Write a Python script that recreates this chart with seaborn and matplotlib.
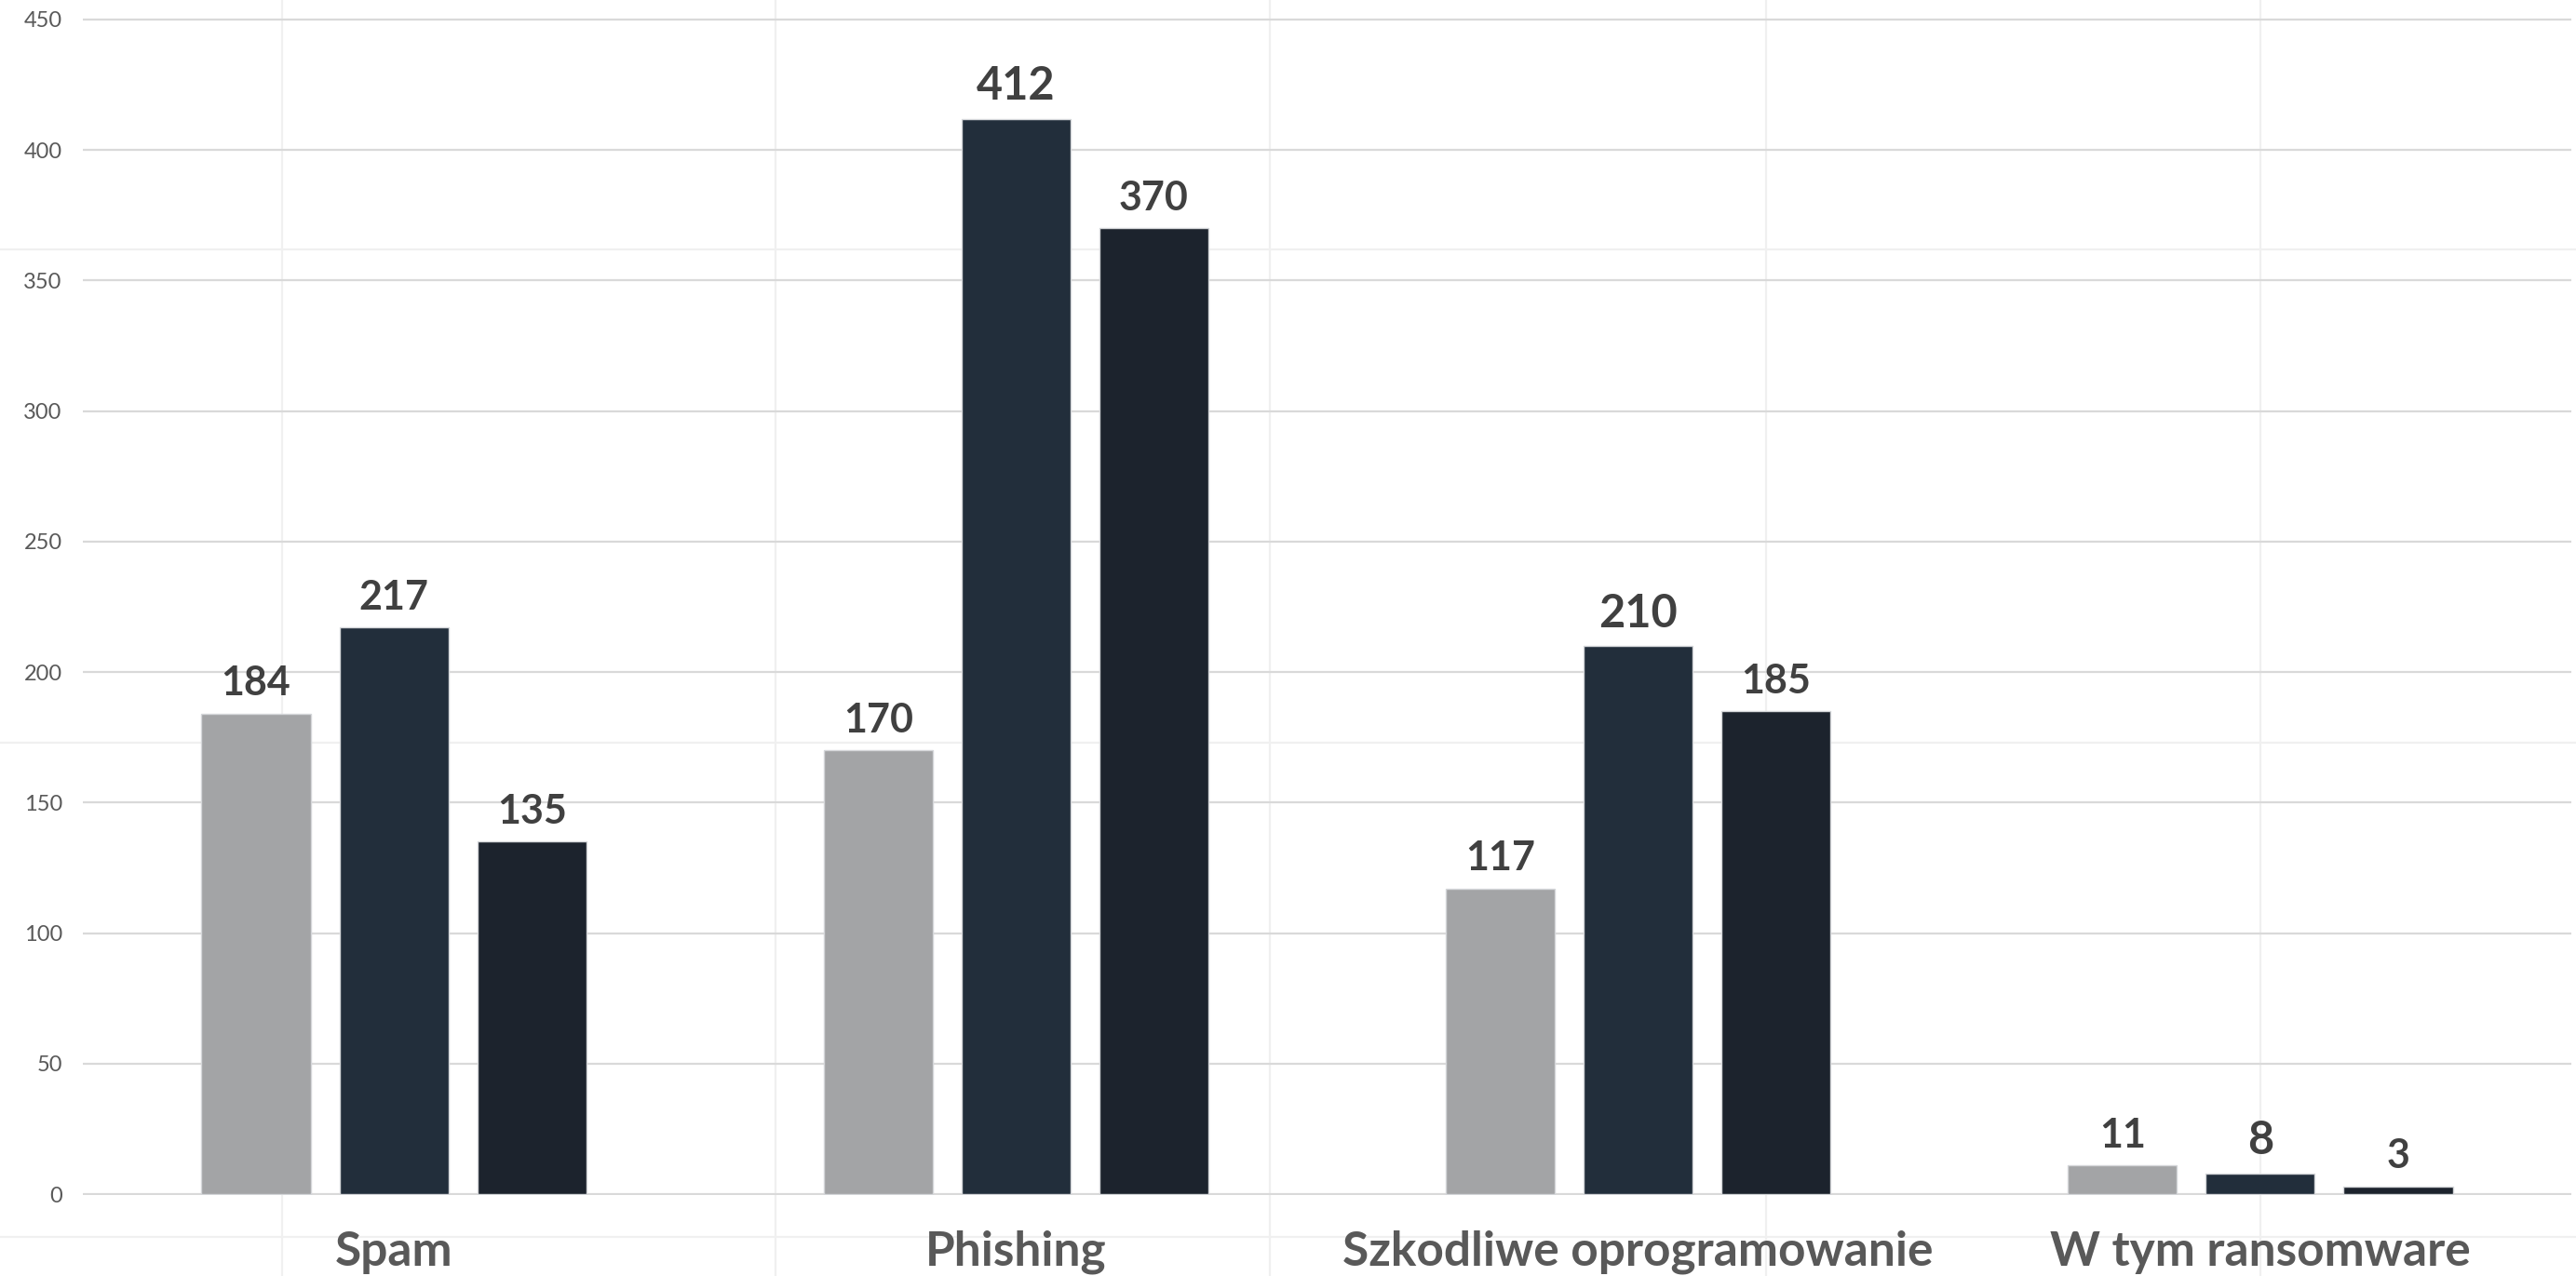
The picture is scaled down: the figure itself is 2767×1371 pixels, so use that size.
import matplotlib
matplotlib.use("Agg")
import matplotlib.pyplot as plt
from matplotlib.lines import Line2D
import seaborn as sns
import pandas as pd

# Incident counts per category for three reporting periods
categories = ["Spam", "Phishing", "Szkodliwe oprogramowanie", "W tym ransomware"]
series = ["Okres 1", "Okres 2", "Okres 3"]
period_1 = [184, 170, 117, 11]
period_2 = [217, 412, 210, 8]
period_3 = [135, 370, 185, 3]
y_ticks = [0, 50, 100, 150, 200, 250, 300, 350, 400, 450]

palette = ["#a3a4a6", "#222e3b", "#1c232d"]

df = pd.DataFrame({
    "kategoria": categories * 3,
    "okres": [s for s in series for _ in categories],
    "liczba": period_1 + period_2 + period_3,
})

sns.set_theme(style="white")
plt.rcParams["font.family"] = ["Lato", "DejaVu Sans"]

W, H, DPI = 2767, 1371, 100
fig = plt.figure(figsize=(W / DPI, H / DPI), dpi=DPI, facecolor="white")

# faint square background grid behind the chart
for x in [303, 833, 1364, 1897, 2428]:
    fig.add_artist(Line2D([x / W, x / W], [0, 1], color="#f0f0f0", lw=1.6, zorder=0))
for y in [268, 798, 1329]:
    fig.add_artist(Line2D([0, 1], [1 - y / H, 1 - y / H], color="#f0f0f0", lw=1.6, zorder=0))

ymin, ymax = -0.5, 455
px_per_unit = (1283 - 21) / 450.0
ax_bottom_px = 1283 + (0 - ymin) * px_per_unit
ax_top_px = 1283 - ymax * px_per_unit
left_px, right_px = 89, 2762
ax = fig.add_axes([left_px / W, 1 - ax_bottom_px / H,
                   (right_px - left_px) / W, (ax_bottom_px - ax_top_px) / H])
ax.set_facecolor("none")

sns.barplot(data=df, x="kategoria", y="liczba", hue="okres", palette=palette,
            saturation=1, width=0.665, gap=0.21, edgecolor="#d4d6d9", linewidth=1.0,
            legend=False, ax=ax, zorder=3)

# value labels; the middle period is set slightly larger in the last three groups
for si, cont in enumerate(ax.containers):
    texts = ax.bar_label(cont, padding=9, fontsize=31, fontweight="bold", color="#404040")
    if si == 1:
        for ci, t in enumerate(texts):
            if ci > 0:
                t.set_fontsize(35)

ax.set_xlim(-0.5, 3.5)
ax.set_ylim(ymin, ymax)
ax.set_yticks(y_ticks)
ax.set_yticklabels([str(t) for t in y_ticks])
ax.yaxis.grid(True, color="#d9d9d9", lw=1.6, zorder=0)
ax.xaxis.grid(False)
for s in ax.spines.values():
    s.set_visible(False)
ax.set_xlabel("")
ax.set_ylabel("")
ax.tick_params(axis="y", length=0, pad=16, labelsize=17, labelcolor="#595959")
ax.tick_params(axis="x", length=0, pad=27, labelsize=37, labelcolor="#595959")
for lbl in ax.get_xticklabels():
    lbl.set_fontweight("bold")

fig.savefig("out.png", dpi=DPI, facecolor="white")
